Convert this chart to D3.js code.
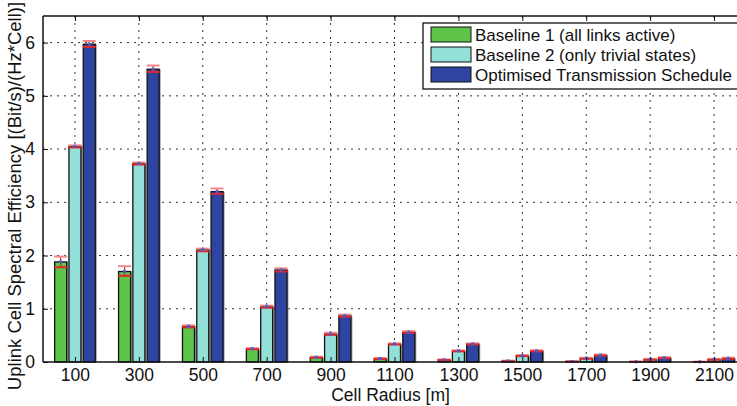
<!DOCTYPE html>
<html><head><meta charset="utf-8">
<script src="https://cdn.jsdelivr.net/npm/d3@7/dist/d3.min.js"></script>
<style>body{margin:0;background:#fff;overflow:hidden}svg{display:block}text{font-family:"Liberation Sans",Arial,Helvetica,sans-serif}</style>
</head><body><svg id="c" width="737" height="406"></svg>
<script>
const categories = [100,300,500,700,900,1100,1300,1500,1700,1900,2100];
const seriesNames = ["Baseline 1 (all links active)","Baseline 2 (only trivial states)","Optimised Transmission Schedule"];
const seriesColors = ["#5ec44a","#92e0d8","#2d44a0"];
const baseline1 = [1.88,1.70,0.67,0.25,0.09,0.065,0.04,0.02,0.01,0.005,0.003];
const baseline2 = [4.05,3.73,2.11,1.04,0.53,0.34,0.21,0.12,0.07,0.05,0.05];
const optimised = [5.97,5.50,3.20,1.73,0.87,0.56,0.34,0.21,0.13,0.08,0.07];
const baseline1Lo = [1.78,1.62,0.65,0.24,0.08,0.055,0.035,0.015,0.007,0.003,0.001];
const baseline1Hi = [1.98,1.80,0.69,0.26,0.10,0.075,0.05,0.025,0.013,0.008,0.006];
const baseline2Lo = [4.03,3.71,2.08,1.02,0.51,0.33,0.20,0.11,0.06,0.04,0.04];
const baseline2Hi = [4.07,3.75,2.13,1.06,0.55,0.35,0.22,0.13,0.08,0.06,0.06];
const optimisedLo = [5.92,5.45,3.16,1.70,0.85,0.55,0.33,0.20,0.12,0.07,0.06];
const optimisedHi = [6.03,5.57,3.26,1.76,0.89,0.58,0.35,0.22,0.14,0.09,0.08];
const yTicks = [0,1,2,3,4,5,6];

const values = [baseline1, baseline2, optimised];
const lows = [baseline1Lo, baseline2Lo, optimisedLo];
const highs = [baseline1Hi, baseline2Hi, optimisedHi];

const svg = d3.select("#c");
const L = 43, T = 16, B = 362, R = 746;
const x = d3.scaleLinear().domain([0,2200]).range([L,R]);
const y = d3.scaleLinear().domain([0,6.5]).range([B,T]);
const off = [-14.3, 0, 14.3], bw = 12;
const FS = 17.5;

// grid
const g = svg.append("g");
g.selectAll(".gy").data(yTicks.filter(d=>d>0)).join("line")
  .attr("x1",L).attr("x2",R).attr("y1",d=>y(d)).attr("y2",d=>y(d))
  .attr("stroke","#333").attr("stroke-width",1).attr("stroke-dasharray","2,5");
g.selectAll(".gx").data(categories).join("line")
  .attr("x1",d=>x(d)).attr("x2",d=>x(d)).attr("y1",T).attr("y2",B)
  .attr("stroke","#333").attr("stroke-width",1).attr("stroke-dasharray","2,5");

// bars
values.forEach((vals,s)=>{
  const gs = svg.append("g");
  gs.selectAll("rect.sh").data(vals).join("rect")
    .attr("x",(d,i)=>x(categories[i])+off[s]-bw/2+1.5).attr("width",bw)
    .attr("y",d=>y(d)).attr("height",d=>B-y(d))
    .attr("fill","#999");
  gs.selectAll("rect.b").data(vals).join("rect")
    .attr("x",(d,i)=>x(categories[i])+off[s]-bw/2).attr("width",bw)
    .attr("y",d=>y(d)).attr("height",d=>B-y(d))
    .attr("fill",seriesColors[s]).attr("stroke","#111").attr("stroke-width",1.3);
});
// error bars
values.forEach((vals,s)=>{
  const ge = svg.append("g");
  vals.forEach((v,i)=>{
    const cx = x(categories[i])+off[s];
    ge.append("line").attr("x1",cx).attr("x2",cx).attr("y1",y(highs[s][i])).attr("y2",y(lows[s][i]))
      .attr("stroke","#e0262b").attr("stroke-width",1.2);
    ge.append("line").attr("x1",cx-bw/2-0.5).attr("x2",cx+bw/2+0.5).attr("y1",y(highs[s][i])).attr("y2",y(highs[s][i]))
      .attr("stroke","#f08a8a").attr("stroke-width",2);
    ge.append("line").attr("x1",cx-bw/2-0.5).attr("x2",cx+bw/2+0.5).attr("y1",y(lows[s][i])).attr("y2",y(lows[s][i]))
      .attr("stroke","#e0262b").attr("stroke-width",2);
    ge.append("rect").attr("x",cx-1.5).attr("y",y(v)-1.5).attr("width",3).attr("height",3).attr("fill","#4a5ed0");
  });
});

// axes box
svg.append("line").attr("x1",L).attr("x2",R).attr("y1",B).attr("y2",B).attr("stroke","#111").attr("stroke-width",1.5);
svg.append("line").attr("x1",L).attr("x2",R).attr("y1",T).attr("y2",T).attr("stroke","#111").attr("stroke-width",1.5);
svg.append("line").attr("x1",L).attr("x2",L).attr("y1",T).attr("y2",B).attr("stroke","#111").attr("stroke-width",1.5);

const xAxis = svg.append("g").attr("transform",`translate(0,${B})`)
  .call(d3.axisBottom(x).tickValues(categories).tickSize(-5).tickPadding(7).tickFormat(d3.format("d")));
xAxis.select(".domain").remove();
xAxis.selectAll("text").attr("font-size",FS).attr("fill","#111");
xAxis.selectAll("line").attr("stroke","#111");
const xTop = svg.append("g").attr("transform",`translate(0,${T})`)
  .call(d3.axisTop(x).tickValues(categories).tickSize(-5).tickFormat(""));
xTop.select(".domain").remove(); xTop.selectAll("line").attr("stroke","#111");

const yAxis = svg.append("g").attr("transform",`translate(${L},0)`)
  .call(d3.axisLeft(y).tickValues(yTicks).tickSize(-5).tickPadding(8).tickFormat(d3.format("d")));
yAxis.select(".domain").remove();
yAxis.selectAll("text").attr("font-size",FS).attr("fill","#111");
yAxis.selectAll("line").attr("stroke","#111");

svg.append("text").attr("x",(L+R)/2-4).attr("y",401).attr("text-anchor","middle")
  .attr("font-size",FS).attr("fill","#111").text("Cell Radius [m]");
svg.append("text").attr("transform",`translate(21,${(T+B)/2+7}) rotate(-90)`).attr("text-anchor","middle")
  .attr("font-size",18.5).attr("fill","#111").text("Uplink Cell Spectral Efficiency [(Bit/s)/(Hz*Cell)]");

// legend
const lg = svg.append("g");
lg.append("rect").attr("x",423).attr("y",23).attr("width",330).attr("height",66)
  .attr("fill","#fff").attr("stroke","#111").attr("stroke-width",1.3);
seriesNames.forEach((n,i)=>{
  const yy = 27 + i*20;
  lg.append("rect").attr("x",431).attr("y",yy).attr("width",40).attr("height",15)
    .attr("fill",seriesColors[i]).attr("stroke","#111").attr("stroke-width",1);
  lg.append("text").attr("x",475).attr("y",yy+13.5).attr("font-size",17).attr("fill","#111").text(n);
});
</script></body></html>
